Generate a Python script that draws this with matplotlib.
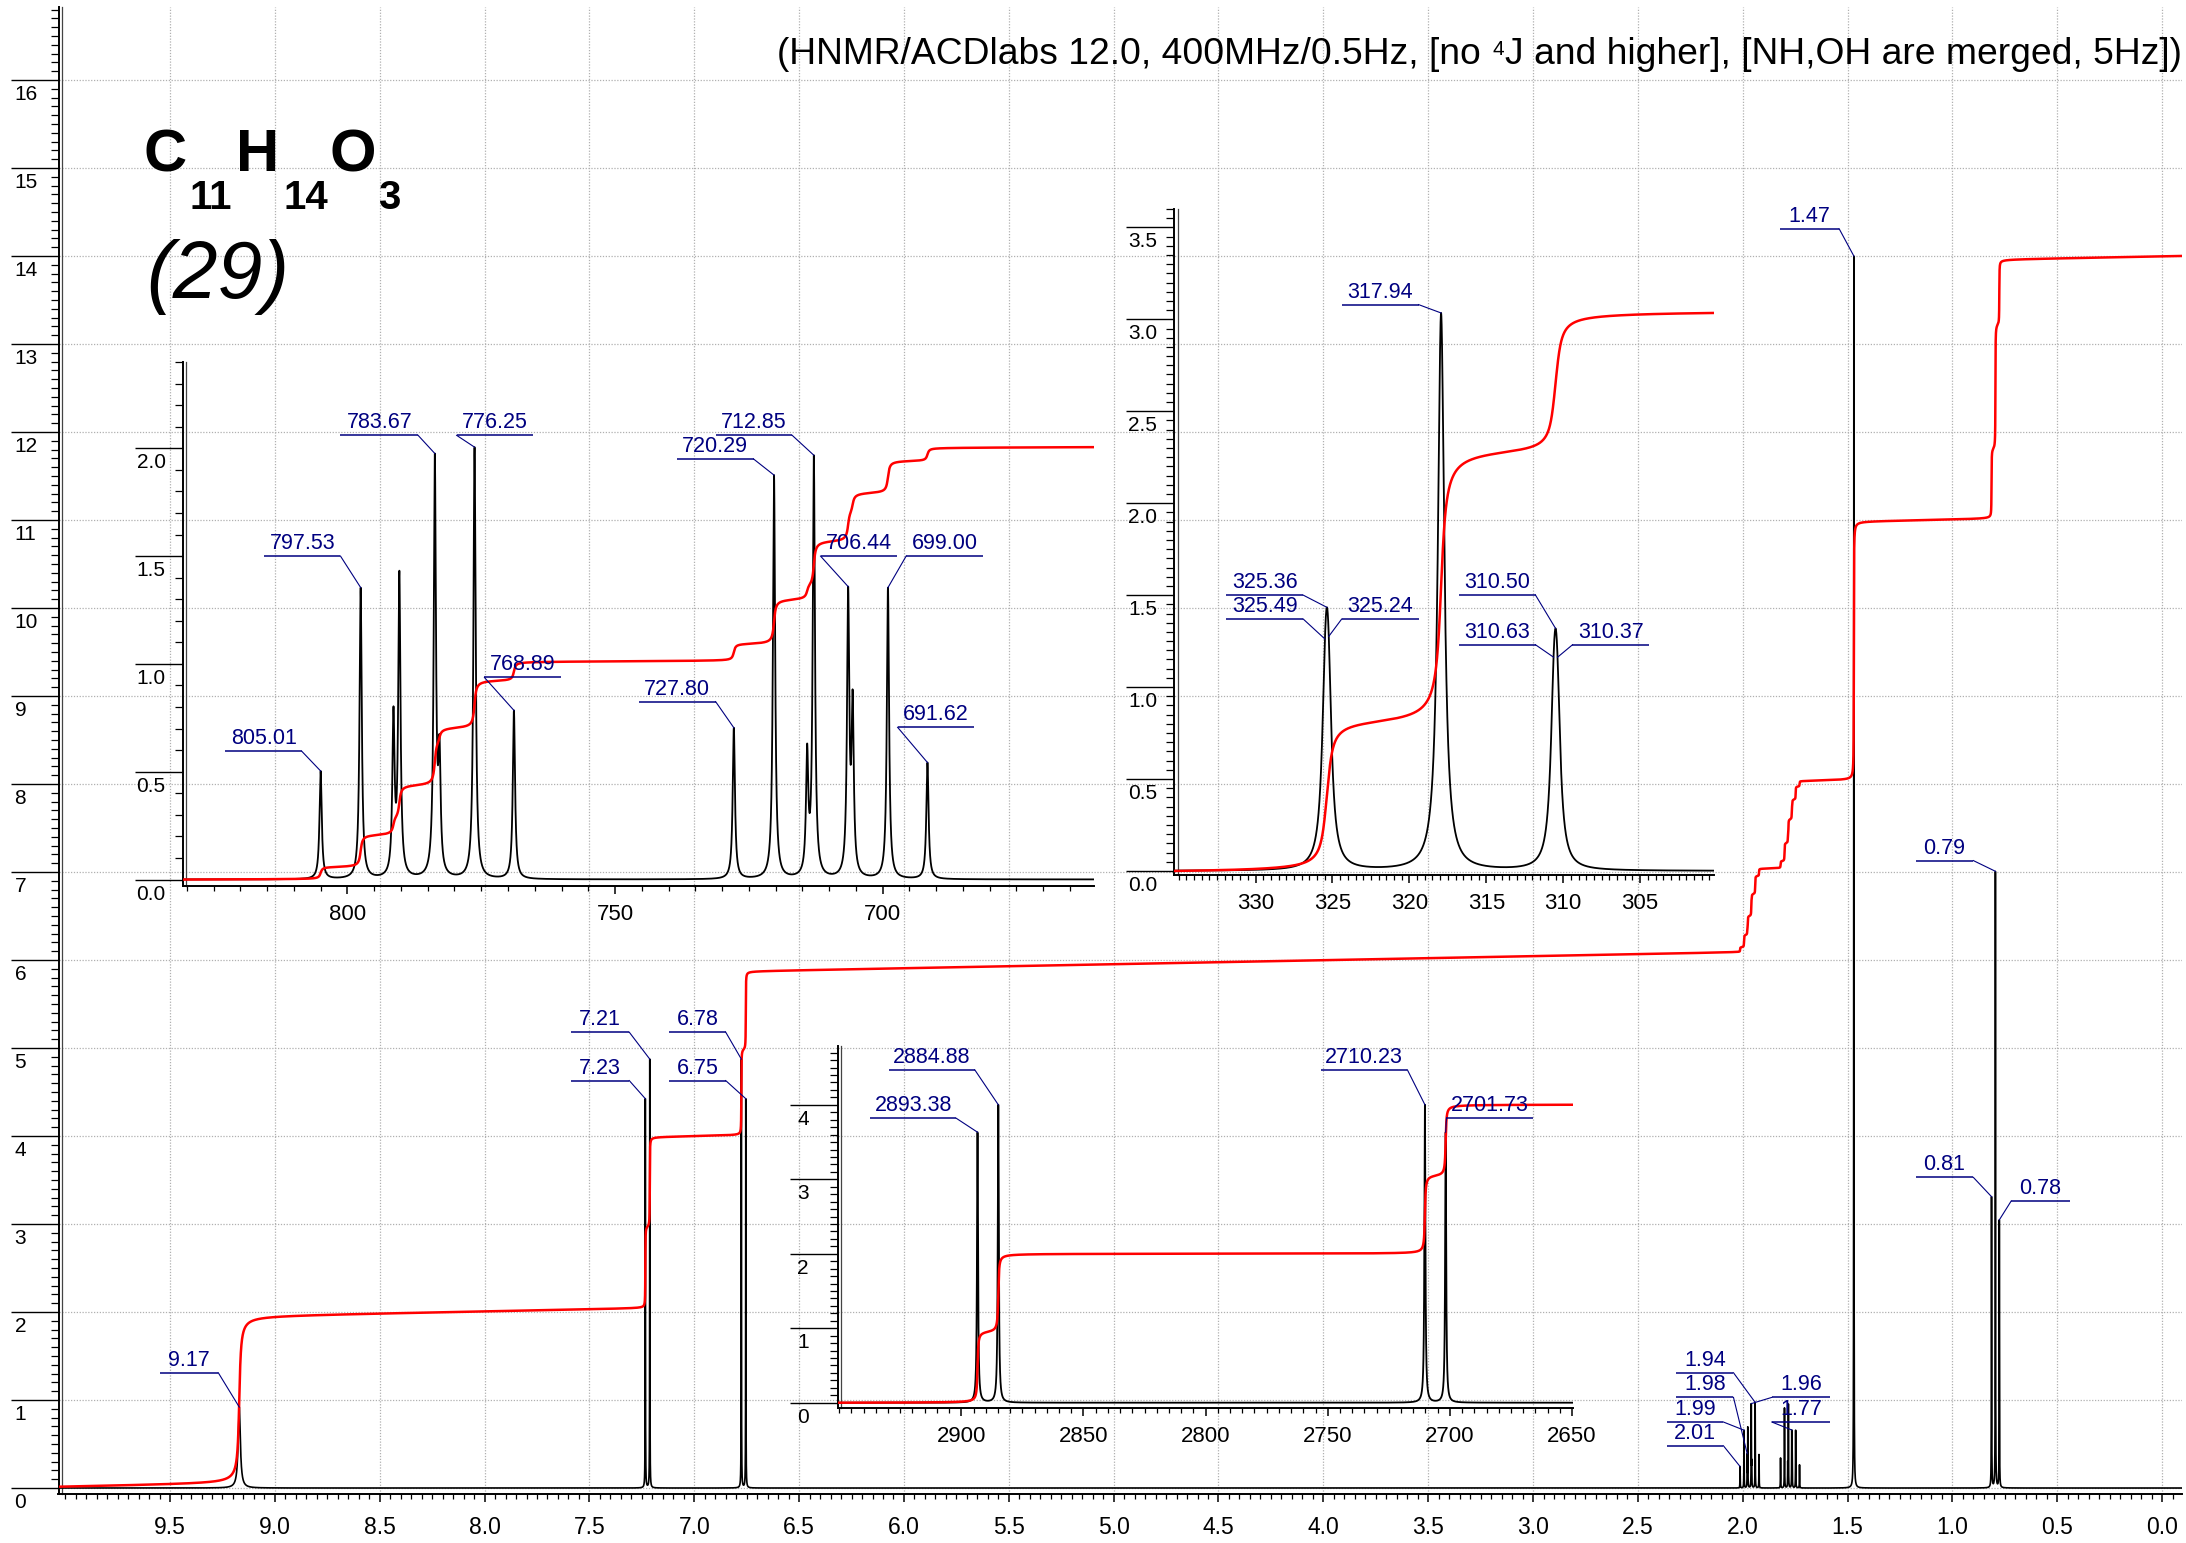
import numpy as np
import matplotlib
matplotlib.use('Agg')
import matplotlib.pyplot as plt
from matplotlib.ticker import MultipleLocator
from matplotlib.transforms import offset_copy

plt.rcParams['font.family'] = ['Liberation Sans', 'DejaVu Sans']

MHZ = 400.0

# predicted lines: position (Hz at 400 MHz) and height in the main spectrum
line_hz = [3668.00, 2893.38, 2884.88, 2710.23, 2701.73,
           805.01, 797.53, 791.40, 790.30, 783.67, 782.80, 776.25, 768.89,
           727.80, 720.29, 714.10, 712.85, 706.44, 705.60, 699.00, 691.62,
           588.00,
           325.49, 325.36, 325.24, 317.94, 310.63, 310.50, 310.37]
line_amp = [0.92, 4.42, 4.87, 4.87, 4.42,
            0.243, 0.655, 0.354, 0.675, 0.937, 0.252, 0.971, 0.379,
            0.340, 0.908, 0.267, 0.942, 0.626, 0.374, 0.655, 0.262,
            14.0,
            1.27, 1.27, 1.27, 7.00, 1.18, 1.18, 1.18]
line_group = [0, 1, 1, 2, 2,
              3, 3, 3, 3, 3, 3, 3, 3,
              4, 4, 4, 4, 4, 4, 4, 4,
              5,
              6, 6, 6, 6, 6, 6, 6]
half_width_hz = 0.25      # 0.5 Hz line width
nh_half_width_hz = 2.5    # NH,OH merged, 5 Hz

# integral curve of the main spectrum
integral_steps = [1.908, 1.946, 1.863, 0.946, 0.988, 2.939, 2.947]
integral_start = 0.01
integral_drift = 0.045    # per ppm

# vertical expansion of the insets relative to the main spectrum
gain_inset1 = 2.06
gain_inset2 = 0.433
gain_inset3 = 0.821

title_left = "(HNMR/ACDlabs 12.0, 400MHz/0.5Hz, [no "
title_sup = "4"
title_right = "J and higher], [NH,OH are merged, 5Hz])"

# peak labels: line, underline from/to, underline height, end joined to the peak
main_labels = [
    (3668.00, 9.55, 9.27, 1.31, 'r'),
    (2884.88, 7.59, 7.31, 5.18, 'r'),
    (2893.38, 7.59, 7.31, 4.63, 'r'),
    (2710.23, 7.12, 6.85, 5.18, 'r'),
    (2701.73, 7.12, 6.85, 4.63, 'r'),
    (776.25, 2.318, 2.044, 1.31, 'r'),
    (791.40, 2.318, 2.044, 1.03, 'r'),
    (797.53, 2.362, 2.092, 0.75, 'r'),
    (805.01, 2.362, 2.092, 0.48, 'r'),
    (783.67, 1.861, 1.583, 1.03, 'l'),
    (706.44, 1.861, 1.583, 0.75, 'l'),
    (588.00, 1.82, 1.54, 14.31, 'r'),
    (317.94, 1.175, 0.90, 7.13, 'r'),
    (325.36, 1.175, 0.90, 3.53, 'r'),
    (310.50, 0.72, 0.44, 3.26, 'l'),
]
inset1_labels = [
    (805.01, 822.8, 808.5, 0.594, 'r'),
    (797.53, 815.6, 801.3, 1.50, 'r'),
    (783.67, 801.3, 786.8, 2.06, 'r'),
    (776.25, 779.6, 765.3, 2.06, 'l'),
    (768.89, 774.4, 760.1, 0.937, 'l'),
    (727.80, 745.5, 731.2, 0.825, 'r'),
    (720.29, 738.4, 724.1, 1.95, 'r'),
    (712.85, 731.2, 716.9, 2.06, 'r'),
    (706.44, 711.6, 697.3, 1.50, 'l'),
    (699.00, 695.6, 681.3, 1.50, 'l'),
    (691.62, 697.2, 682.9, 0.706, 'l'),
]
inset2_labels = [
    (317.94, 324.4, 319.4, 3.08, 'r'),
    (325.36, 331.9, 326.9, 1.50, 'r'),
    (325.49, 331.9, 326.9, 1.37, 'r'),
    (325.24, 324.4, 319.4, 1.37, 'l'),
    (310.50, 316.8, 311.8, 1.50, 'r'),
    (310.63, 316.8, 311.8, 1.23, 'r'),
    (310.37, 309.4, 304.4, 1.23, 'l'),
]
inset3_labels = [
    (2893.38, 2937.4, 2902.1, 3.82, 'r'),
    (2884.88, 2929.8, 2894.5, 4.47, 'r'),
    (2710.23, 2752.8, 2717.4, 4.47, 'r'),
    (2701.73, 2701.4, 2666.1, 3.82, 'l'),
]

NAVY = '#000080'
pos = np.array(line_hz)
amp = np.array(line_amp)
hw = np.full(len(pos), half_width_hz)
hw[0] = nh_half_width_hz
grp = np.array(line_group)


def spectrum(x_hz, gain=1.0):
    y = np.zeros_like(x_hz, dtype=float)
    for p, a, w in zip(pos, amp, hw):
        y += a * w**2 / ((x_hz - p)**2 + w**2)
    return gain * y


def inset_curves(hz_left, hz_right, gain, n=40000):
    x = np.linspace(hz_left, hz_right, n)
    y = spectrum(x, gain)
    area = np.concatenate([[0.0], np.cumsum(0.5 * (y[1:] + y[:-1]) * np.abs(np.diff(x)))])
    return x, y, area * y.max() / area[-1]


W, H = 2186, 1543
fig = plt.figure(figsize=(W / 100, H / 100), dpi=100)


def box(left, top, right, bottom):
    return [left / W, 1 - bottom / H, (right - left) / W, (bottom - top) / H]


def style(a, xmajor, xminor, xfmt, ymajor, yminor, yfmt, ylab_dx, xpad, xsize):
    a.set_facecolor('none')
    for s in ('top', 'right'):
        a.spines[s].set_visible(False)
    for s in ('left', 'bottom'):
        a.spines[s].set_linewidth(1.4)
    a.plot([0, 0], [0, 1], transform=offset_copy(a.transAxes, fig=fig, x=3.5, units='dots'),
           color='#444444', lw=0.9, clip_on=False)
    a.set_xticks(xmajor)
    a.set_xticklabels([xfmt.format(v) for v in xmajor])
    a.xaxis.set_minor_locator(MultipleLocator(xminor))
    a.tick_params(axis='x', which='major', direction='out', length=6, width=1.1,
                  pad=xpad, labelsize=xsize)
    a.tick_params(axis='x', which='minor', direction='out', length=3.8, width=0.9)
    a.set_yticks(ymajor)
    a.yaxis.set_minor_locator(MultipleLocator(yminor))
    a.tick_params(axis='y', which='major', direction='out', length=34.5, width=1.0,
                  labelleft=False)
    a.tick_params(axis='y', which='minor', direction='out', length=5.5, width=0.9)
    tr = offset_copy(a.get_yaxis_transform(), fig=fig, x=ylab_dx, y=-5, units='dots')
    for v in ymajor:
        a.text(0, v, yfmt.format(v), transform=tr, ha='left', va='top', fontsize=15)


def draw_labels(a, table, fmt, scale, gain):
    tr = offset_copy(a.transData, fig=fig, y=2, units='dots')
    for key, xa, xb, yu, end in table:
        i = line_hz.index(key)
        px = pos[i] / scale
        py = spectrum(np.array([pos[i]]), gain)[0]
        xe = xb if end == 'r' else xa
        a.plot([xa, xb], [yu, yu], color=NAVY, lw=1.1, solid_capstyle='butt', zorder=6, clip_on=False)
        a.plot([xe, px], [yu, py], color=NAVY, lw=0.8, zorder=6, clip_on=False)
        a.text((xa + xb) / 2, yu, fmt(pos[i]), transform=tr, ha='center', va='bottom',
               color=NAVY, fontsize=15.5, zorder=7)


# ---- main spectrum ----
ax = fig.add_axes(box(58.5, 7, 2182, 1494))
ppm = np.linspace(10.032, -0.095, 400000)
spec_main = spectrum(ppm * MHZ)

int_main = integral_start + integral_drift * (ppm[0] - ppm)
for g, step in enumerate(integral_steps):
    sel = grp == g
    wts = amp[sel] * hw[sel]
    wts = wts / wts.sum()
    cdf = np.zeros_like(ppm)
    for p, wt, h in zip(pos[sel], wts, hw[sel]):
        cdf += wt * (0.5 + np.arctan((p - ppm * MHZ) / h) / np.pi)
    int_main += step * cdf

ax.plot(ppm, spec_main, color='black', lw=1.2, zorder=3)
ax.plot(ppm, int_main, color='red', lw=1.8, zorder=4)
ax.set_xlim(10.032, -0.095)
ax.set_ylim(-0.068, 16.83)
style(ax, np.arange(0, 9.51, 0.5), 0.05, '{:.1f}', np.arange(0, 17), 0.1, '{:.0f}', -44, 10, 16.5)
ax.grid(True, which='major', color='#b0b0b0', ls=(0, (1, 1.3)), lw=0.9)
draw_labels(ax, main_labels, lambda h: f"{h / MHZ:.2f}", MHZ, 1.0)

# ---- inset 1: 1.7 - 2.0 ppm ----
ax1 = fig.add_axes(box(182.6, 362, 1094, 886))
x1, y1, i1 = inset_curves(830.8, 660.5, gain_inset1)
ax1.plot(x1, y1, color='black', lw=1.3, zorder=3)
ax1.plot(x1, i1, color='red', lw=1.8, zorder=4)
ax1.set_xlim(830.8, 660.5)
ax1.set_ylim(-0.030, 2.40)
style(ax1, [800, 750, 700], 5, '{:.0f}', [0.0, 0.5, 1.0, 1.5, 2.0], 0.1, '{:.1f}', -46, 7, 16)
draw_labels(ax1, inset1_labels, lambda h: f"{h:.2f}", 1.0, gain_inset1)

# ---- inset 2: 0.8 ppm ----
ax2 = fig.add_axes(box(1174, 209, 1714, 875))
x2, y2, i2 = inset_curves(335.3, 300.2, gain_inset2)
ax2.plot(x2, y2, color='black', lw=1.3, zorder=3)
ax2.plot(x2, i2, color='red', lw=1.8, zorder=4)
ax2.set_xlim(335.3, 300.2)
ax2.set_ylim(-0.022, 3.60)
style(ax2, [330, 325, 320, 315, 310, 305], 0.5, '{:.0f}', np.arange(0, 3.51, 0.5), 0.05,
      '{:.1f}', -46, 7, 16)
draw_labels(ax2, inset2_labels, lambda h: f"{h:.2f}", 1.0, gain_inset2)

# ---- inset 3: aromatic ----
ax3 = fig.add_axes(box(837.5, 1046, 1573, 1408))
x3, y3, i3 = inset_curves(2950.7, 2649.6, gain_inset3)
ax3.plot(x3, y3, color='black', lw=1.3, zorder=3)
ax3.plot(x3, i3, color='red', lw=1.8, zorder=4)
ax3.set_xlim(2950.7, 2649.6)
ax3.set_ylim(-0.071, 4.79)
style(ax3, [2900, 2850, 2800, 2750, 2700, 2650], 5, '{:.0f}', [0, 1, 2, 3, 4], 0.1,
      '{:.0f}', -40, 7, 16)
draw_labels(ax3, inset3_labels, lambda h: f"{h:.2f}", 1.0, gain_inset3)

# ---- header texts ----
renderer = fig.canvas.get_renderer()
t_right = fig.text(2182 / W, 1 - 64 / H, title_right, ha='right', va='baseline', fontsize=26.8)
x_edge = t_right.get_window_extent(renderer).x0
t_sup = fig.text((x_edge - 1) / W, 1 - 55 / H, title_sup, ha='right', va='baseline', fontsize=15)
x_edge = t_sup.get_window_extent(renderer).x0
fig.text((x_edge - 1) / W, 1 - 64 / H, title_left, ha='right', va='baseline', fontsize=26.8)

for s, x, y, fs in [('C', 143, 171, 43), ('11', 190, 209, 29), ('H', 236, 171, 43),
                    ('14', 283, 209, 29), ('O', 329, 171, 43), ('3', 378, 209, 29)]:
    fig.text(x / W, 1 - y / H, s, ha='left', va='baseline', fontsize=fs, fontweight='bold')
fig.text(146 / W, 1 - 298 / H, '(29)', ha='left', va='baseline', fontsize=58, style='italic')

fig.savefig('out.png', dpi=100)
